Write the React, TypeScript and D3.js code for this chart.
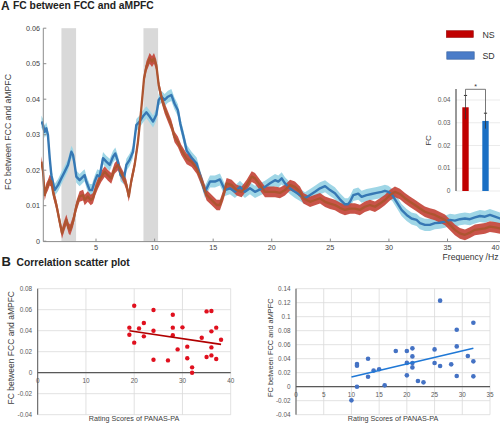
import React from "react";
import * as d3 from "d3";

// ---- Panel A: spectra (frequency in Hz, FC value) ----
const sdFreq = [0.34,0.48,0.62,0.76,0.9,1.05,1.19,1.47,1.76,2.04,2.33,2.61,2.9,3.04,3.18,3.32,3.6,3.9,4.03,4.17,4.46,4.66,4.89,5.11,5.31,5.6,5.88,6.17,6.45,6.65,6.88,7.1,7.39,7.59,7.87,8.16,8.44,8.72,9.0,9.3,9.58,9.87,10.15,10.35,10.57,10.86,11.14,11.43,11.7,11.99,12.2,12.5,12.74,13.16,13.59,13.87,14.3,14.73,15.15,15.58,16.0,16.43,16.86,17.29,17.71,18.14,18.57,19.0,19.42,19.85,20.28,20.56,20.85,21.13,21.56,21.98,22.41,22.84,23.27,23.69,24.12,24.55,24.97,25.39,25.82,26.25,26.5,26.68,26.96,27.38,27.67,28.09,28.52,28.95,29.38,29.66,29.95,30.29,30.65,31.08,31.51,31.93,32.36,32.65,33.07,33.5,33.92,34.35,34.78,35.21,35.63,36.06,36.49,36.91,37.34,37.77,38.2,38.62,39.05,39.48,39.8];
const sdFC = [0.0337,0.0327,0.0308,0.0318,0.0299,0.0234,0.0186,0.0144,0.0158,0.0177,0.0196,0.0215,0.0252,0.0243,0.0215,0.0182,0.0172,0.0182,0.0186,0.0168,0.0144,0.0144,0.0168,0.0186,0.0182,0.0234,0.0224,0.0215,0.0238,0.0247,0.0224,0.0186,0.0177,0.0215,0.0229,0.0252,0.0327,0.0337,0.0351,0.0363,0.0351,0.0337,0.0356,0.0398,0.0407,0.0398,0.0407,0.0412,0.0388,0.0369,0.033,0.029,0.0255,0.0235,0.0219,0.0186,0.0139,0.0168,0.0168,0.0174,0.0144,0.0149,0.0139,0.0153,0.0139,0.0149,0.0139,0.0146,0.0153,0.0163,0.0172,0.0168,0.0177,0.0163,0.0149,0.0139,0.013,0.0121,0.013,0.0139,0.0149,0.0155,0.0144,0.0135,0.0118,0.0104,0.0104,0.0111,0.013,0.0134,0.0125,0.013,0.0133,0.0136,0.0139,0.0142,0.0139,0.013,0.0111,0.0088,0.0074,0.0064,0.006,0.0051,0.0046,0.0046,0.0051,0.0052,0.0055,0.006,0.0058,0.0062,0.0064,0.0062,0.0067,0.0071,0.0069,0.0074,0.0069,0.0064,0.0066];
const nsFreq = [0.34,0.48,0.62,0.76,0.9,1.05,1.19,1.33,1.62,1.9,2.1,2.27,2.47,2.67,2.8,3.04,3.32,3.6,3.9,4.03,4.3,4.55,4.74,4.94,5.17,5.45,5.74,6.0,6.3,6.59,6.88,7.1,7.39,7.6,7.8,8.0,8.3,8.58,8.87,9.1,9.3,9.58,9.78,9.95,10.15,10.35,10.57,10.86,11.14,11.43,11.7,11.99,12.28,12.74,13.16,13.59,14.0,14.44,14.87,15.3,15.58,15.87,16.15,16.58,17.0,17.43,17.86,18.29,18.57,19.0,19.42,19.85,20.28,20.7,21.13,21.56,21.98,22.41,22.7,23.27,23.69,24.12,24.55,24.97,25.39,25.82,26.25,26.68,27.1,27.52,27.95,28.38,28.81,29.23,29.66,30.09,30.51,30.94,31.37,31.79,32.22,32.65,33.07,33.5,33.92,34.35,34.78,35.21,35.63,36.06,36.49,36.91,37.34,37.77,38.2,38.62,39.05,39.48,39.8];
const nsFC = [0.0224,0.0196,0.013,0.0149,0.0158,0.0172,0.0168,0.0139,0.0102,0.0055,0.0022,0.0041,0.006,0.0036,0.0032,0.0055,0.0098,0.0126,0.013,0.0116,0.0126,0.0116,0.0121,0.0144,0.0163,0.0182,0.0196,0.0186,0.0177,0.0205,0.0215,0.0196,0.0177,0.0158,0.0126,0.0168,0.0215,0.028,0.0374,0.0459,0.0492,0.0515,0.0506,0.0515,0.0496,0.044,0.0407,0.0374,0.0351,0.0327,0.0294,0.028,0.0257,0.0232,0.0224,0.0205,0.0172,0.013,0.0116,0.0102,0.0102,0.013,0.0163,0.0158,0.0144,0.0139,0.0158,0.0182,0.0177,0.0158,0.0139,0.0139,0.0139,0.0136,0.0144,0.0158,0.0153,0.0139,0.0121,0.0111,0.0116,0.0121,0.0111,0.0106,0.0102,0.0094,0.0088,0.0092,0.0092,0.0088,0.0097,0.0102,0.0097,0.0106,0.0116,0.013,0.0139,0.0133,0.0121,0.0111,0.0102,0.0092,0.0083,0.0078,0.0074,0.0067,0.006,0.0046,0.0032,0.0022,0.0018,0.0024,0.0032,0.0034,0.0036,0.0041,0.0039,0.0036,0.0038];
const nsSem = 0.0015;
const sdSem = 0.0017;
const bandStarts = [2.05, 9.05];
const bandEnds = [3.3, 10.3];
const freqTicks = [5, 10, 15, 20, 25, 30, 35, 40];
const fcTicks = [0, 0.01, 0.02, 0.03, 0.04, 0.05, 0.06];

// inset bar chart
const groups = ["NS", "SD"];
const groupMeans = [0.0368, 0.0308];
const groupSems = [0.0052, 0.0034];
const insetTicks = [0, 0.01, 0.02, 0.03, 0.04];

// ---- Panel B: scatter plots ----
const nsScore = [19,19,20,20,21,22,22,24,24,24,27,28,28,28,29,30,31,31,32,32,34,35,35,36,36,36,36,37,37,38];
const nsValue = [0.0429,0.0362,0.0638,0.0286,0.0422,0.0473,0.0346,0.0597,0.040,0.0124,0.0117,0.0552,0.0429,0.0356,0.0222,0.0432,0.0248,0.0137,0.0051,0.0,0.0333,0.0584,0.0149,0.0587,0.0394,0.0241,0.0165,0.0429,0.013,0.0314];
const nsTrendX = [19, 38];
const nsTrendY = [0.040, 0.027];
const sdScore = [10,11,11,11,13,13,14,15,16,18,20,20,20,21,21,21,21,22,23,25,25,26,26,28,29,29,29,31,32,32,32];
const sdValue = [-0.0195,0.0324,0.030,0.0,0.040,0.0143,0.023,0.025,0.0019,0.051,0.051,0.034,0.0162,0.0548,0.0433,0.0338,0.0276,0.0081,0.0062,0.0533,0.0338,0.1229,0.0295,0.0319,0.0814,0.0576,0.0152,0.0438,0.0914,0.0362,0.0148];
const sdTrendX = [10, 32];
const sdTrendY = [0.0138, 0.0548];
const leftXTicks = [0, 10, 20, 30, 40];
const leftYTicks = [-0.04, -0.02, 0, 0.02, 0.04, 0.06, 0.08];
const rightXTicks = [0, 5, 10, 15, 20, 25, 30, 35];
const rightYTicks = [-0.04, -0.02, 0, 0.02, 0.04, 0.06, 0.08, 0.1, 0.12, 0.14];

const FONT = "'Liberation Sans', Arial, sans-serif";
const fmt = (v: number) => (v === 0 ? "0" : String(+v.toFixed(2)));

function Scatter({ xs, ys, trendX, trendY, xTicks, yTicks, x, y, color, lineColor, r, yLabelX, yLabelSize, xLabelX, tickBaselineOffset }: any) {
  const [x0, x1] = x.range();
  const [yb, yt] = y.range();
  return (
    <g>
      {xTicks.map((t: number) => (
        <line key={"gx" + t} x1={x(t)} x2={x(t)} y1={yt} y2={yb} stroke="#d9d9d9" strokeWidth={0.8} />
      ))}
      {yTicks.map((t: number) => (
        <line key={"gy" + t} x1={x0} x2={x1} y1={y(t)} y2={y(t)} stroke="#d9d9d9" strokeWidth={0.8} />
      ))}
      <line x1={x(0)} x2={x(0)} y1={yt} y2={yb} stroke="#595959" strokeWidth={1} />
      <line x1={x0} x2={x1} y1={y(0)} y2={y(0)} stroke="#595959" strokeWidth={1.2} />
      {yTicks.map((t: number) => (
        <text key={"ly" + t} x={x0 - 5.5} y={y(t) + 2.2} textAnchor="end" fontSize={6.4} fill="#595959">{fmt(t)}</text>
      ))}
      {xTicks.map((t: number) => (
        <text key={"lx" + t} x={x(t)} y={y(0) + tickBaselineOffset} textAnchor="middle" fontSize={6.4} fill="#595959">{t}</text>
      ))}
      {xs.map((v: number, i: number) => (
        <circle key={"p" + i} cx={x(v)} cy={y(ys[i])} r={r} fill={color} />
      ))}
      <line x1={x(trendX[0])} y1={y(trendY[0])} x2={x(trendX[1])} y2={y(trendY[1])} stroke={lineColor} strokeWidth={1.6} />
      <text transform={`translate(${yLabelX},${(yt + yb) / 2 - 4}) rotate(-90)`} textAnchor="middle" fontSize={yLabelSize} fill="#404040">FC between FCC and aMPFC</text>
      <text x={xLabelX} y={421} textAnchor="middle" fontSize={7.2} fill="#404040">Rating Scores of PANAS-PA</text>
    </g>
  );
}

export default function App() {
  const xF = d3.scaleLinear().domain([5, 35]).range([96, 447.5]);
  const yF = d3.scaleLinear().domain([0, 0.06]).range([241.2, 28.2]);
  const axisY = 241.6;
  const axisX = 43.3;

  const nsData = nsFreq.map((f, i) => ({ f, v: nsFC[i] }));
  const sdData = sdFreq.map((f, i) => ({ f, v: sdFC[i] }));
  const line = d3.line<any>().x((d) => xF(d.f)).y((d) => yF(d.v));
  const areaNS = d3.area<any>().x((d) => xF(d.f)).y0((d) => yF(d.v - nsSem)).y1((d) => yF(d.v + nsSem));
  const areaSD = d3.area<any>().x((d) => xF(d.f)).y0((d) => yF(d.v - sdSem)).y1((d) => yF(d.v + sdSem));

  const xI = d3.scalePoint().domain(groups).range([465.5, 485.5]);
  const yI = d3.scaleLinear().domain([0, 0.04]).range([191, 100]);
  const barColors = ["#c00000", "#1a6fc4"];
  const barW = 6.4;

  const xL = d3.scaleLinear().domain([0, 40]).range([37.7, 230.7]);
  const yL = d3.scaleLinear().domain([-0.04, 0.08]).range([414.7, 288.7]);
  const xR = d3.scaleLinear().domain([0, 35]).range([296, 490]);
  const yR = d3.scaleLinear().domain([-0.04, 0.14]).range([414.7, 288.7]);

  const nsTop = yI(groupMeans[0] + groupSems[0]);
  const sdTop = yI(groupMeans[1] + groupSems[1]);
  const bracketY = 89.3;

  return (
    <svg width={500} height={425} style={{ position: "absolute", left: 0, top: 0, background: "#fff" }} fontFamily={FONT}>
      <rect width={500} height={425} fill="#fff" />
      <defs>
        <clipPath id="plotA">
          <rect x={41} y={20} width={459} height={222} />
        </clipPath>
      </defs>
      {/* Titles */}
      <text x={1} y={9.5} fontSize={12} fontWeight="bold" fill="#222">A</text>
      <text x={13} y={8.6} fontSize={10.3} fontWeight="bold" fill="#222">FC between FCC and aMPFC</text>
      <text x={1.5} y={266} fontSize={13} fontWeight="bold" fill="#222">B</text>
      <text x={16.5} y={266} fontSize={10.3} fontWeight="bold" fill="#222">Correlation scatter plot</text>

      {/* Panel A */}
      {bandStarts.map((s, i) => (
        <rect key={"band" + i} x={xF(s)} y={yF(0.06)} width={xF(bandEnds[i]) - xF(s)} height={axisY - yF(0.06)} fill="#d9d9d9" />
      ))}
      <g clipPath="url(#plotA)">
        <path d={areaSD(sdData) || ""} fill="#9fd6e6" />
        <path d={areaNS(nsData) || ""} fill="#c4453a" opacity={0.92} />
        <path d={line(sdData) || ""} fill="none" stroke="#3678b4" strokeWidth={2.4} strokeLinejoin="round" />
        <path d={line(nsData) || ""} fill="none" stroke="#ad5530" strokeWidth={2.3} strokeLinejoin="round" />
      </g>
      <line x1={axisX} x2={axisX} y1={yF(0.06)} y2={axisY} stroke="#8c8c8c" strokeWidth={1} />
      <line x1={axisX} x2={500} y1={axisY} y2={axisY} stroke="#8c8c8c" strokeWidth={1} />
      {fcTicks.map((t) => (
        <g key={"fy" + t}>
          <line x1={axisX} x2={axisX + 3} y1={yF(t)} y2={yF(t)} stroke="#8c8c8c" />
          <text x={40} y={yF(t) + 2.5} textAnchor="end" fontSize={7.2} fill="#404040">{fmt(t)}</text>
        </g>
      ))}
      {freqTicks.map((t) => (
        <g key={"fx" + t}>
          {xF(t) < 500 && <line x1={xF(t)} x2={xF(t)} y1={axisY} y2={axisY - 3} stroke="#8c8c8c" />}
          <text x={Math.min(xF(t), 495.5)} y={250.3} textAnchor="middle" fontSize={7.2} fill="#404040">{t}</text>
        </g>
      ))}
      <text transform={`translate(10.6,132) rotate(-90)`} textAnchor="middle" fontSize={8.7} fill="#404040">FC between FCC and aMPFC</text>
      <text x={498.5} y={260} textAnchor="end" fontSize={8.6} fill="#333">Frequency /Hz</text>

      {/* Legend */}
      <rect x={446.3} y={30.7} width={27} height={6.8} fill="#c00000" stroke="#9a1010" strokeWidth={0.6} />
      <text x={482.5} y={38.2} fontSize={8.8} fill="#333">NS</text>
      <rect x={446.8} y={51.8} width={27.4} height={7.4} fill="#4a7cc8" stroke="#2f5a9a" strokeWidth={0.6} />
      <text x={482.5} y={59.2} fontSize={8.8} fill="#333">SD</text>

      {/* Inset bar chart */}
      {insetTicks.map((t) => (
        <g key={"it" + t}>
          <line x1={456} x2={500} y1={yI(t)} y2={yI(t)} stroke="#e6e6e6" strokeWidth={0.8} />
          <text x={450.5} y={yI(t) + 2} textAnchor="end" fontSize={6.6} fill="#595959">{fmt(t)}</text>
        </g>
      ))}
      {groups.map((g, i) => {
        const cx = xI(g) as number;
        const top = yI(groupMeans[i] + groupSems[i]);
        const bot = yI(groupMeans[i] - groupSems[i]);
        return (
          <g key={"bar" + g}>
            <rect x={cx - barW / 2} y={yI(groupMeans[i])} width={barW} height={yI(0) - yI(groupMeans[i])} fill={barColors[i]} />
            <line x1={cx} x2={cx} y1={top} y2={bot} stroke="#333" strokeWidth={1} opacity={0.75} />
            <line x1={cx - 1.6} x2={cx + 1.6} y1={top} y2={top} stroke="#333" strokeWidth={1} />
          </g>
        );
      })}
      <line x1={456} x2={456} y1={89} y2={191} stroke="#333" strokeWidth={1} />
      <path d={`M${xI("NS")},${nsTop} V${bracketY} H${xI("SD")} V${sdTop}`} fill="none" stroke="#555" strokeWidth={0.8} />
      <text x={((xI("NS") as number) + (xI("SD") as number)) / 2} y={88.5} textAnchor="middle" fontSize={7} fill="#333">*</text>
      <text transform={`translate(430.5,140.5) rotate(-90)`} textAnchor="middle" fontSize={8} fill="#404040">FC</text>

      {/* Panel B scatters */}
      <Scatter xs={nsScore} ys={nsValue} trendX={nsTrendX} trendY={nsTrendY} xTicks={leftXTicks} yTicks={leftYTicks}
        x={xL} y={yL} color="#e0101e" lineColor="#b00000" r={2.2} yLabelX={14} yLabelSize={8.5} xLabelX={134} tickBaselineOffset={10.3} />
      <Scatter xs={sdScore} ys={sdValue} trendX={sdTrendX} trendY={sdTrendY} xTicks={rightXTicks} yTicks={rightYTicks}
        x={xR} y={yR} color="#4472c4" lineColor="#1f78d6" r={2.3} yLabelX={273.3} yLabelSize={7.4} xLabelX={393} tickBaselineOffset={9.8} />
    </svg>
  );
}
